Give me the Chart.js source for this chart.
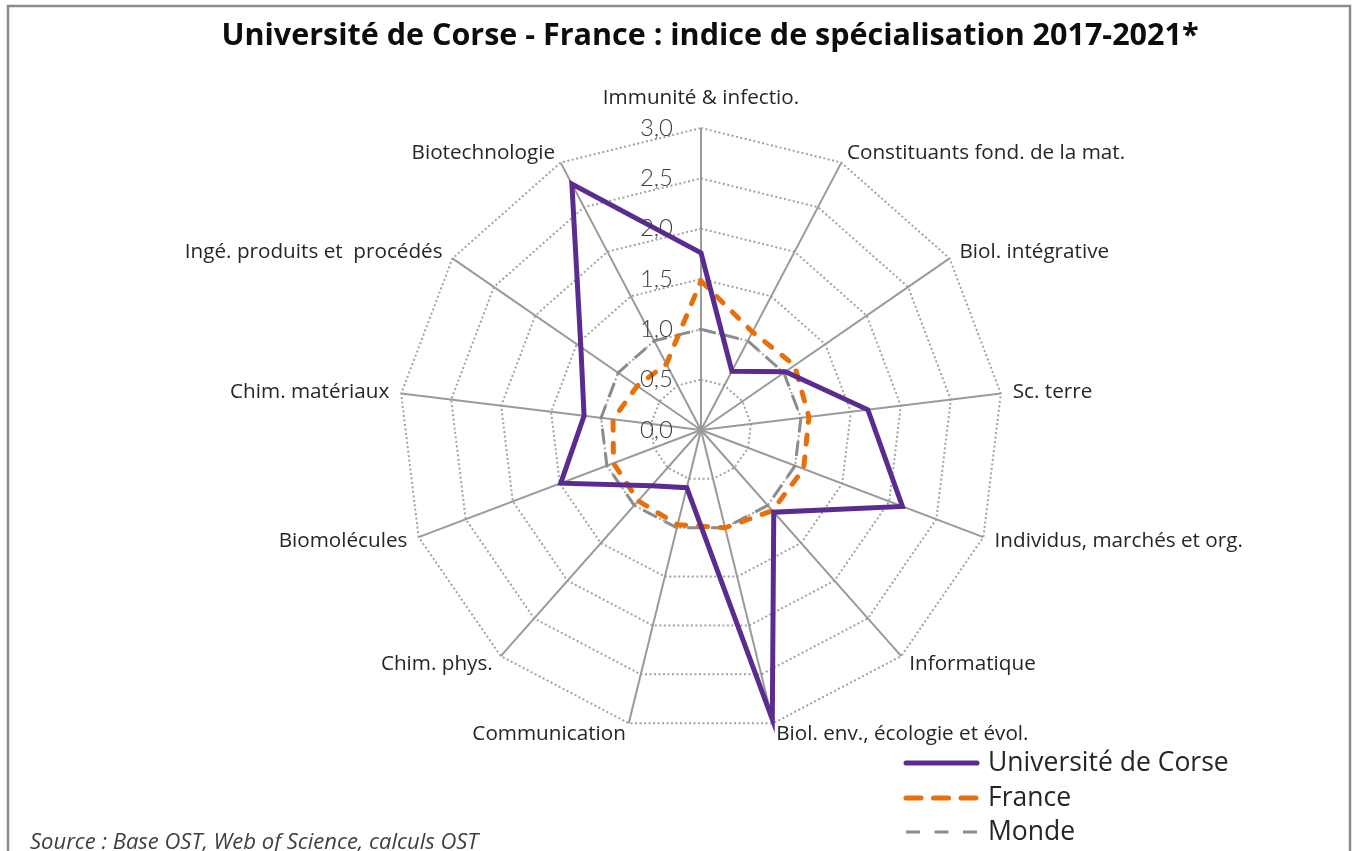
<!DOCTYPE html>
<html><head><meta charset="utf-8">
<script src="https://cdn.jsdelivr.net/npm/chart.js@4.4.0/dist/chart.umd.min.js"></script>
<style>html,body{margin:0;padding:0;background:#fff;}canvas{display:block}</style>
</head><body>
<canvas id="c" width="1357" height="851"></canvas>
<script>
const titleText = 'Université de Corse - France : indice de spécialisation 2017-2021*';
const sourceText = 'Source : Base OST, Web of Science, calculs OST';
const categories = [
  'Immunité & infectio.', 'Constituants fond. de la mat.', 'Biol. intégrative', 'Sc. terre',
  'Individus, marchés et org.', 'Informatique', 'Biol. env., écologie et évol.', 'Communication',
  'Chim. phys.', 'Biomolécules', 'Chim. matériaux', 'Ingé. produits et  procédés', 'Biotechnologie'
];
const seriesNames = ['Université de Corse', 'France', 'Monde'];
const corseValues  = [1.76, 0.66, 1.02, 1.67, 2.14, 1.09, 2.96, 0.59, 0.74, 1.49, 1.17, 1.45, 2.76];
const franceValues = [1.48, 1.10, 1.13, 1.08, 1.09, 1.07, 1.00, 0.97, 0.94, 0.93, 0.88, 0.77, 0.74];
const mondeValues  = [1, 1, 1, 1, 1, 1, 1, 1, 1, 1, 1, 1, 1];
const tickValues = [0, 0.5, 1, 1.5, 2, 2.5, 3];
const tickLabels = ['0,0', '0,5', '1,0', '1,5', '2,0', '2,5', '3,0'];

const FONT = '"Open Sans", Lato, sans-serif';

const decor = {
  id: 'decor',
  afterDraw(chart) {
    const ctx = chart.ctx;
    const s = chart.scales.r;
    ctx.save();
    // frame
    ctx.strokeStyle = '#8a8a8a';
    ctx.lineWidth = 2.5;
    ctx.beginPath();
    ctx.moveTo(8, 851); ctx.lineTo(8, 6); ctx.lineTo(1350, 6); ctx.lineTo(1350, 851);
    ctx.stroke();
    // title
    ctx.fillStyle = '#0d0d0d';
    ctx.font = 'bold 30.5px ' + FONT;
    ctx.textAlign = 'center'; ctx.textBaseline = 'middle';
    ctx.fillText(titleText, 710, 36);
    // tick labels
    ctx.font = '300 24px Lato, sans-serif';
    ctx.fillStyle = '#404040';
    ctx.textAlign = 'right';
    tickValues.forEach((v, i) => {
      const y = s.yCenter - s.getDistanceFromCenterForValue(v);
      ctx.fillText(tickLabels[i], s.xCenter - 28, y);
    });
    // point labels
    ctx.font = '20.7px ' + FONT;
    ctx.fillStyle = '#262626';
    categories.forEach((lab, i) => {
      const p = s.getPointPosition(i, s.drawingArea);
      const dx = Math.cos(p.angle), dy = Math.sin(p.angle);
      let x = p.x + 12 * dx, y = p.y + 11 * dy;
      if (Math.abs(dx) < 0.01) {
        ctx.textAlign = 'center';
        y = p.y + (dy < 0 ? -30 : 30);
      } else {
        ctx.textAlign = dx > 0 ? 'left' : 'right';
      }
      ctx.fillText(lab, x, y);
    });
    // legend
    const rows = [763, 798, 832];
    ctx.font = '26.5px ' + FONT;
    ctx.textAlign = 'left';
    chart.data.datasets.forEach((ds, i) => {
      ctx.save();
      ctx.strokeStyle = ds.borderColor;
      ctx.lineWidth = ds.borderWidth;
      ctx.lineCap = ds.borderCapStyle || 'butt';
      ctx.setLineDash(ds.legendDash || []);
      ctx.beginPath();
      ctx.moveTo(906, rows[i]); ctx.lineTo(977, rows[i]);
      ctx.stroke();
      ctx.restore();
      ctx.fillStyle = '#262626';
      ctx.fillText(ds.label, 988, rows[i]);
    });
    // source
    ctx.font = 'italic 22px ' + FONT;
    ctx.fillStyle = '#404040';
    ctx.fillText(sourceText, 30, 843);
    ctx.restore();
  }
};

new Chart(document.getElementById('c'), {
  type: 'radar',
  data: {
    labels: categories,
    datasets: [
      { label: seriesNames[0], data: corseValues, borderColor: '#5b2c90', borderWidth: 5,
        pointRadius: 0, fill: false, borderJoinStyle: 'miter', borderCapStyle: 'round', legendDash: [] },
      { label: seriesNames[1], data: franceValues, borderColor: '#e8700c', borderWidth: 5,
        borderDash: [9, 13], borderCapStyle: 'round', pointRadius: 0, fill: false, legendDash: [15, 12.5] },
      { label: seriesNames[2], data: mondeValues, borderColor: '#8c8c8c', borderWidth: 3,
        borderDash: [15, 9], pointRadius: 0, fill: false, borderCapStyle: 'butt', legendDash: [14, 14.5] }
    ]
  },
  options: {
    responsive: false,
    animation: false,
    devicePixelRatio: 1,
    layout: { padding: { top: 128, bottom: 119, left: 45, right: 0 } },
    plugins: { legend: { display: false }, title: { display: false }, tooltip: { enabled: false } },
    elements: { line: { tension: 0 } },
    scales: {
      r: {
        min: 0, max: 3,
        ticks: { stepSize: 0.5, display: false },
        pointLabels: { display: false },
        grid: { circular: false, color: '#a3a3a3', lineWidth: 2 },
        border: { dash: [2, 2.5] },
        angleLines: { display: true, color: '#9a9a9a', lineWidth: 2 }
      }
    }
  },
  plugins: [decor]
});
</script>
</body></html>
